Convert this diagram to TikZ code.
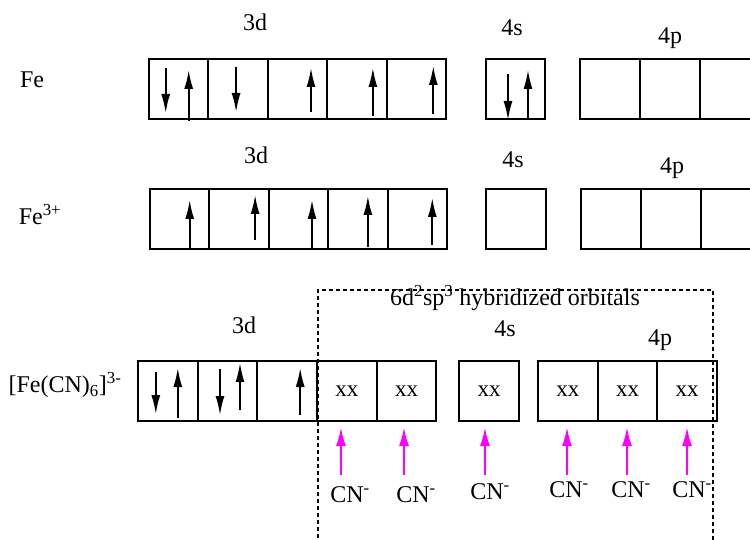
\documentclass[tikz,border=0pt]{standalone}
\usepackage{fontspec}
\setmainfont{Liberation Serif}
\usetikzlibrary{arrows.meta,positioning,calc}

\definecolor{ligcol}{RGB}{255,0,255}
\tikzset{
  orb/.style={draw,line width=1.8pt,minimum width=59.5pt,minimum height=60pt,inner sep=0pt,outer sep=0pt,font=\fontsize{23}{23}\selectfont},
  el/.style={-{Latex[length=19pt,width=9pt]},line width=1.8pt},
  lig/.style={-{Latex[length=19pt,width=10pt]},line width=2.2pt,ligcol,shorten >=6pt},
  lbl/.style={font=\fontsize{24}{24}\selectfont,inner sep=0pt},
}

\begin{document}
\begin{tikzpicture}[x=1pt,y=-1pt]
  \useasboundingbox (0,0) rectangle (750,540);
  % Fe
  \node[lbl] (fe) at (32,80) {Fe};
  \foreach \i in {1,...,5}
    \node[orb] (a\i) at ({178.7+59.4*(\i-1)},89) {};
  \node[orb] (as) at (515.5,89) {};
  \foreach \i in {1,2,3}
    \node[orb] (ap\i) at ({610+60*(\i-1)},89) {};
  \node[lbl] (ad) at (255,22) {3d};
  \node[lbl] (asl) at (512,28) {4s};
  \node[lbl] (apl) at (670,38) {4p};
  % 電子
  \draw[el]([shift={(-13,-21)}]a1.center)--++(0,45);
  \draw[el]([shift={(10,32)}]a1.center)--++(0,-51);
  \draw[el]([shift={(-2,-22)}]a2.center)--++(0,45);
  \draw[el]([shift={(13.5,23)}]a3.center)--++(0,-44);
  \draw[el]([shift={(16,27)}]a4.center)--++(0,-48);
  \draw[el]([shift={(17,25)}]a5.center)--++(0,-48);
  \draw[el]([shift={(-7.5,-15)}]as.center)--++(0,46);
  \draw[el]([shift={(12.5,31)}]as.center)--++(0,-50);

  % Fe3+
  \node[lbl] (fe3) at (40,215) {Fe\textsuperscript{3+}};
  \foreach \i in {1,...,5}
    \node[orb] (b\i) at ({179.7+59.4*(\i-1)},219) {};
  \node[orb] (bs) at (516,219) {};
  \foreach \i in {1,2,3}
    \node[orb] (bp\i) at ({611+60*(\i-1)},219) {};
  \node[lbl] (bd) at (256,155) {3d};
  \node[lbl] (bsl) at (513,160) {4s};
  \node[lbl] (bpl) at (672,168) {4p};
  \draw[el]([shift={(10,30)}]b1.center)--++(0,-49);
  \draw[el]([shift={(16,21)}]b2.center)--++(0,-45);
  \draw[el]([shift={(13.5,29)}]b3.center)--++(0,-48);
  \draw[el]([shift={(10,28)}]b4.center)--++(0,-51);
  \draw[el]([shift={(15,26)}]b5.center)--++(0,-47);

  % [Fe(CN)6]3-
  \node[lbl] (cx) at (65,385) {[Fe(CN)\textsubscript{6}]\textsuperscript{3-}};
  \node[orb] (c1) at (167.8,391) {};
  \node[orb] (c2) at (227.5,391) {};
  \node[orb] (c3) at (287.2,391) {};
  \node[orb] (c4) at (346.9,391) {xx};
  \node[orb] (c5) at (406.6,391) {xx};
  \node[orb] (cs) at (489,391) {xx};
  \foreach \i in {1,2,3}
    \node[orb] (cp\i) at ({567.8+59.7*(\i-1)},391) {xx};
  \node[lbl] (cd) at (244,325) {3d};
  \node[lbl] (csl) at (505,329) {4s};
  \node[lbl] (cpl) at (660,340) {4p};
  \draw[el]([shift={(-12,-19)}]c1.center)--++(0,42);
  \draw[el]([shift={(10,27)}]c1.center)--++(0,-50);
  \draw[el]([shift={(-7.5,-22)}]c2.center)--++(0,46);
  \draw[el]([shift={(12.5,19)}]c2.center)--++(0,-47);
  \draw[el]([shift={(13,24)}]c3.center)--++(0,-47);
  % 混成軌道
  \draw[dash pattern=on 4pt off 3pt,line width=1.4pt](318,545)--(318,290)--(713,290)--(713,545);
  \node[lbl] (hyb) at (515,298) {6d\textsuperscript{2}sp\textsuperscript{3} hybridized orbitals};
  % 配位子
  \foreach \n/\x/\lx/\ly/\b in {1/341/350/495/c4,2/404/416/495/c5,3/485/490/492/cs,4/567/569/490/cp1,5/627/631/490/cp2,6/687/692/490/cp3}{
    \node[lbl] (cn\n) at (\lx,\ly) {CN\textsuperscript{-}};
    \coordinate (t\n) at (\x,475);
    \draw[lig](t\n)--(t\n |- \b.south);
  }
\end{tikzpicture}
\end{document}
